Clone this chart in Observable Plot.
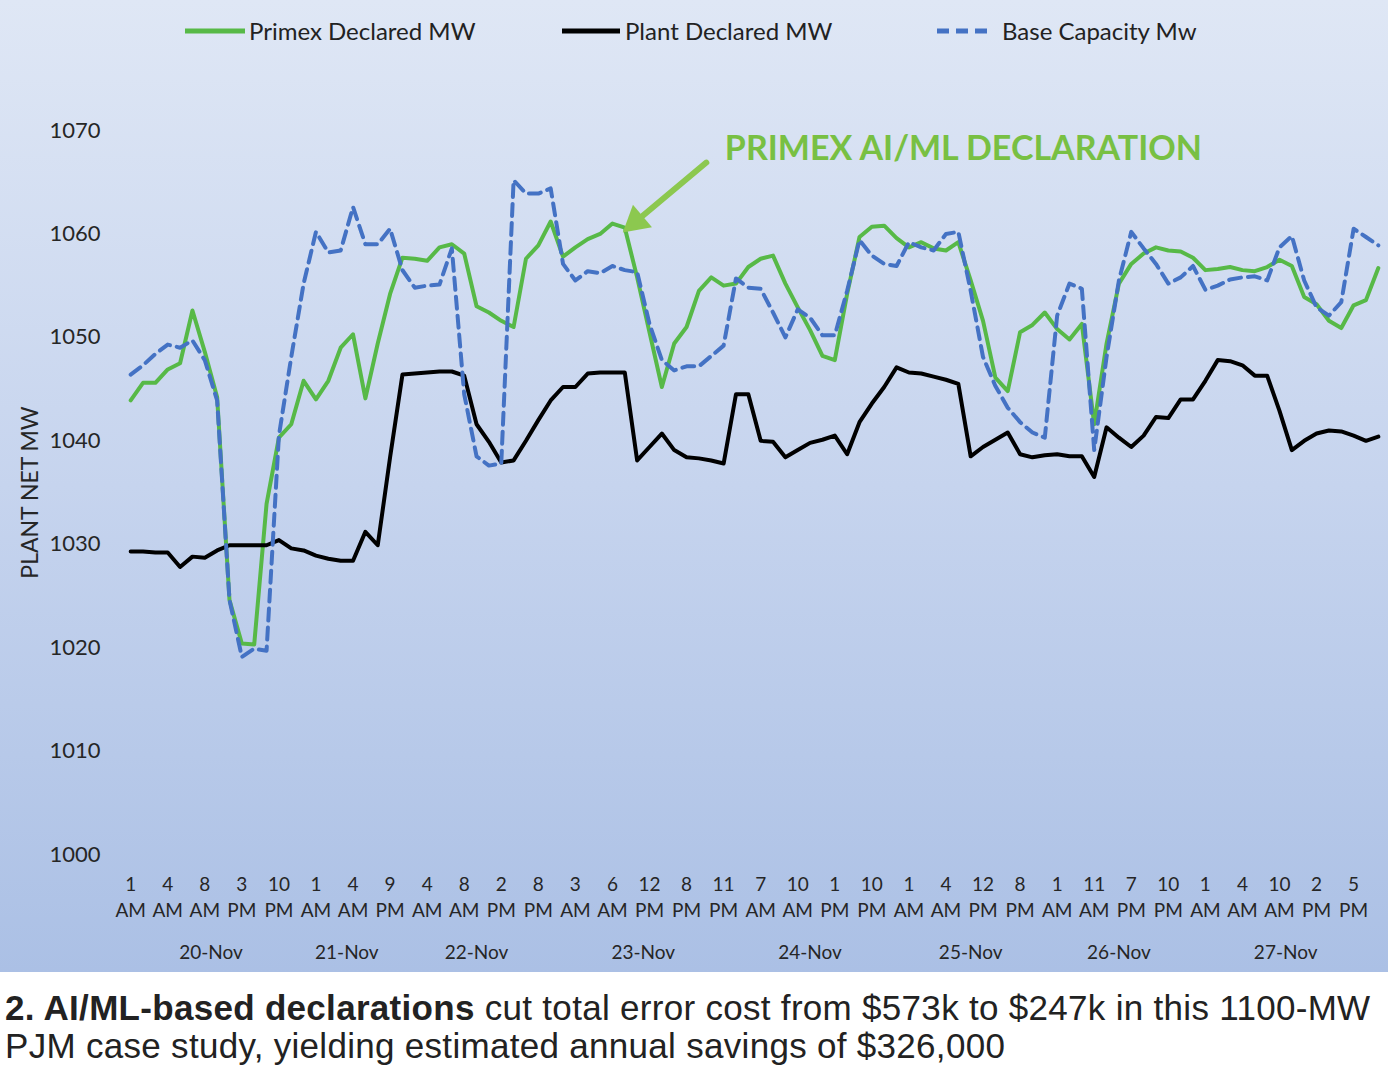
<!DOCTYPE html>
<html>
<head>
<meta charset="utf-8">
<script src="https://cdn.jsdelivr.net/npm/d3@7"></script>
<script src="https://cdn.jsdelivr.net/npm/@observablehq/plot@0.6"></script>
<style>
  body { margin: 0; background: #fff; }
  #chart { position: relative; width: 1388px; height: 972px;
    background: linear-gradient(to bottom, #dfe7f5 0%, #c6d4ee 50%, #abc0e5 100%); }
  #plot { position: absolute; left: 0; top: 0; }
  .lg { position: absolute; font-family: Lato, sans-serif; font-size: 24px; color: #222; line-height: 1; }
  .sw { position: absolute; }
  #caption { margin: 17px 0 0 5px; font-family: "Liberation Sans", Arial, sans-serif; font-size: 35px;
    line-height: 38px; color: #222; white-space: nowrap; letter-spacing: 0.3px; }
</style>
</head>
<body>
<div id="chart"></div>
<div id="caption"><b>2. AI/ML-based declarations</b> cut total error cost from $573k to $247k in this 1100-MW<br>PJM case study, yielding estimated annual savings of $326,000</div>
<script>
// ---- data ----
const primex = [1043.9,1045.6,1045.6,1046.9,1047.5,1052.6,1048.6,1044.2,1024.6,1020.4,1020.3,1033.9,1040.3,1041.6,1045.8,1044.0,1045.8,1049.0,1050.3,1044.1,1049.4,1054.2,1057.7,1057.6,1057.4,1058.7,1059.0,1058.1,1053.0,1052.4,1051.6,1051.0,1057.6,1058.9,1061.2,1057.8,1058.7,1059.5,1060.0,1061.0,1060.6,1055.8,1050.5,1045.2,1049.4,1051.0,1054.5,1055.8,1055.0,1055.2,1056.8,1057.6,1057.9,1055.2,1052.9,1050.7,1048.2,1047.8,1054.2,1059.7,1060.7,1060.8,1059.6,1058.7,1059.2,1058.6,1058.4,1059.2,1055.5,1051.6,1046.1,1044.8,1050.5,1051.2,1052.4,1050.8,1049.8,1051.3,1041.6,1049.4,1055.2,1057.1,1058.1,1058.7,1058.4,1058.3,1057.7,1056.5,1056.6,1056.8,1056.5,1056.4,1056.8,1057.5,1056.9,1053.9,1053.2,1051.6,1050.9,1053.1,1053.6,1056.7];
const plant = [1029.3,1029.3,1029.2,1029.2,1027.8,1028.8,1028.7,1029.4,1029.9,1029.9,1029.9,1029.9,1030.4,1029.6,1029.4,1028.9,1028.6,1028.4,1028.4,1031.2,1029.9,1038.4,1046.4,1046.5,1046.6,1046.7,1046.7,1046.3,1041.6,1039.9,1037.9,1038.1,1040.0,1042.0,1043.9,1045.2,1045.2,1046.5,1046.6,1046.6,1046.6,1038.1,1039.4,1040.7,1039.1,1038.4,1038.3,1038.1,1037.8,1044.5,1044.5,1040.0,1039.9,1038.4,1039.1,1039.8,1040.1,1040.5,1038.7,1041.8,1043.6,1045.2,1047.1,1046.6,1046.5,1046.2,1045.9,1045.5,1038.5,1039.4,1040.1,1040.8,1038.7,1038.4,1038.6,1038.7,1038.5,1038.5,1036.5,1041.3,1040.3,1039.4,1040.5,1042.3,1042.2,1044.0,1044.0,1045.8,1047.8,1047.7,1047.3,1046.3,1046.3,1042.9,1039.1,1040.0,1040.7,1041.0,1040.9,1040.5,1040.0,1040.4];
const base = [1046.4,1047.3,1048.4,1049.3,1049.0,1049.7,1047.8,1043.9,1024.6,1019.1,1019.9,1019.7,1040.5,1048.1,1055.2,1060.2,1058.2,1058.4,1062.6,1059.0,1059.0,1060.5,1056.5,1054.8,1055.0,1055.1,1058.6,1044.5,1038.5,1037.6,1037.8,1065.2,1063.9,1063.9,1064.4,1057.1,1055.5,1056.4,1056.2,1056.9,1056.5,1056.3,1051.3,1047.8,1046.8,1047.2,1047.2,1048.2,1049.2,1055.7,1054.8,1054.7,1052.4,1050.0,1052.7,1051.9,1050.2,1050.2,1054.5,1059.4,1057.9,1057.1,1056.9,1059.2,1058.7,1058.4,1060.0,1060.2,1054.5,1048.1,1045.3,1043.2,1041.8,1040.8,1040.3,1052.1,1055.2,1054.7,1039.1,1048.1,1055.5,1060.2,1058.6,1057.1,1055.2,1055.8,1056.9,1054.6,1055.0,1055.6,1055.8,1055.9,1055.5,1058.7,1059.8,1055.5,1052.9,1052.1,1053.4,1060.5,1059.7,1058.9];
const tickLabels = ["1 AM","4 AM","8 AM","3 PM","10 PM","1 AM","4 AM","9 PM","4 AM","8 AM","2 PM","8 PM","3 AM","6 AM","12 PM","8 PM","11 PM","7 AM","10 AM","1 PM","10 PM","1 AM","4 AM","12 PM","8 PM","1 AM","11 AM","7 PM","10 PM","1 AM","4 AM","10 AM","2 PM","5 PM"];
const tickEvery = 3;
const dayLabels = ["20-Nov","21-Nov","22-Nov","23-Nov","24-Nov","25-Nov","26-Nov","27-Nov"];
const dayStarts = [0,14,22,35,49,62,75,86];
const seriesNames = ["Primex Declared MW","Plant Declared MW","Base Capacity Mw"];
const yTicks = [1000,1010,1020,1030,1040,1050,1060,1070];
const annotationText = "PRIMEX AI/ML DECLARATION";
const annotationPointIndex = 40;

// ---- derived tables ----
const n = primex.length;
const rows = (arr, s) => arr.map((v, i) => ({i, v, s}));
const tickIdx = tickLabels.map((_, k) => k * tickEvery);
const labelAt = new Map(tickIdx.map((t, k) => [t, tickLabels[k].replace(" ", "\n")]));
const days = dayLabels.map((d, k) => ({label: d, c: (dayStarts[k] + ((k + 1 < dayStarts.length ? dayStarts[k + 1] : n) - 1)) / 2}));

const GREEN = "#57b947", BLUE = "#4472c4", BLACK = "#000", ARROW = "#8cc84f";
const tip = {x: annotationPointIndex, y: primex[annotationPointIndex]};

const plot = Plot.plot({
  width: 1388, height: 972,
  marginTop: 130, marginBottom: 118, marginLeft: 124, marginRight: 4,
  style: {background: "transparent", fontFamily: "Lato, sans-serif", color: "#262626"},
  x: {type: "linear", domain: [-0.5, n - 0.5]},
  y: {domain: [1000, 1070]},
  marks: [
    Plot.axisY({ticks: yTicks, tickSize: 0, tickPadding: 24, fontSize: 22, label: null, tickFormat: d => String(d)}),
    Plot.axisX({ticks: tickIdx, tickSize: 0, tickPadding: 18, fontSize: 19, lineHeight: 1.37, label: null,
      tickFormat: d => labelAt.get(d) ?? ""}),
    Plot.text(days, {x: "c", text: "label", frameAnchor: "bottom", dy: 104, fontSize: 19, fill: "#262626"}),
    Plot.text(["PLANT NET MW"], {frameAnchor: "left", textAnchor: "middle", dx: -94, rotate: -90, fontSize: 23, fill: "#262626"}),
    Plot.line(rows(primex, seriesNames[0]), {x: "i", y: "v", stroke: GREEN, strokeWidth: 4, strokeLinejoin: "round"}),
    Plot.line(rows(plant, seriesNames[1]), {x: "i", y: "v", stroke: BLACK, strokeWidth: 4, strokeLinejoin: "round"}),
    Plot.line(rows(base, seriesNames[2]), {x: "i", y: "v", stroke: BLUE, strokeWidth: 4, strokeDasharray: "12,7", strokeLinejoin: "round"}),
    // annotation
    Plot.arrow([tip], {x1: d => d.x + 6.6, y1: d => d.y + 6.3, x2: d => d.x + 0.9, y2: d => d.y + 0.6,
      stroke: ARROW, strokeWidth: 6, headLength: 0}),
    Plot.dot([tip], {x: d => d.x + 0.9, y: d => d.y + 0.6, symbol: "triangle", r: 11, fill: ARROW, rotate: 230}),
    Plot.text([annotationText], {x: tip.x + 8.1, y: tip.y + 7.6, textAnchor: "start", fontSize: 34, fontWeight: "bold", fill: "#78c043"})
  ]
});
plot.id = "plot";
const chart = document.getElementById("chart");
chart.appendChild(plot);

// legend
const legendItems = [
  {name: seriesNames[0], color: GREEN, dash: null, x1: 185, x2: 245, tx: 249},
  {name: seriesNames[1], color: BLACK, dash: null, x1: 562, x2: 620, tx: 625},
  {name: seriesNames[2], color: BLUE, dash: "12,7", x1: 937, x2: 993, tx: 1002}
];
for (const it of legendItems) {
  const svg = d3.create("svg").attr("class", "sw").attr("width", it.x2 - it.x1).attr("height", 8)
    .style("left", it.x1 + "px").style("top", "27px");
  svg.append("line").attr("x1", 0).attr("x2", it.x2 - it.x1).attr("y1", 4).attr("y2", 4)
    .attr("stroke", it.color).attr("stroke-width", 5).attr("stroke-dasharray", it.dash);
  chart.appendChild(svg.node());
  const span = document.createElement("div");
  span.className = "lg"; span.textContent = it.name;
  span.style.left = it.tx + "px"; span.style.top = "19px";
  chart.appendChild(span);
}
</script>
</body>
</html>
